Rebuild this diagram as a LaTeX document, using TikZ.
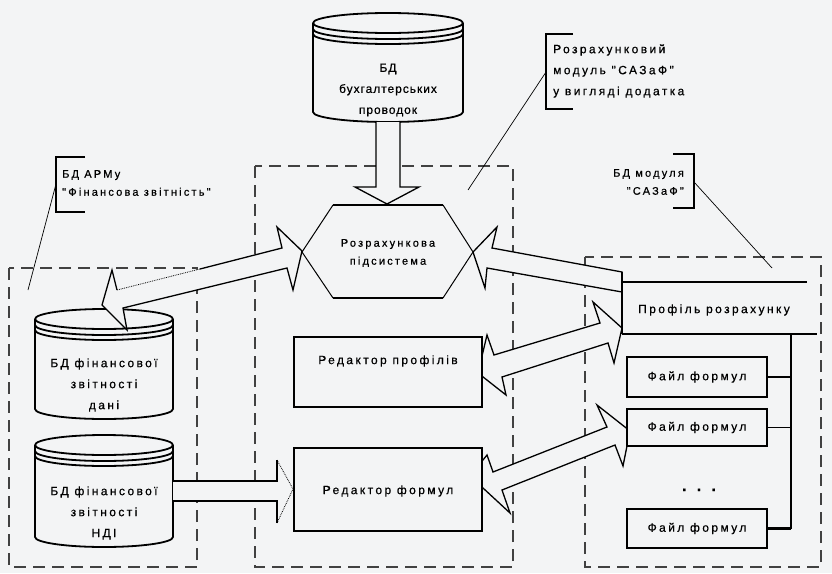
\documentclass[tikz,border=0pt]{standalone}
\usepackage{fontspec}
\setmainfont{Liberation Sans}
\newfontfamily\lblfont{Liberation Sans}[LetterSpace=20,FakeBold=0.5]
\newfontfamily\lbltight{Liberation Sans}[LetterSpace=8,FakeBold=0.5]

\definecolor{paper}{RGB}{243,244,245}
\definecolor{dashgray}{RGB}{65,65,65}

\tikzset{
  dashbox/.style={draw=dashgray, line width=1.7pt, dash pattern=on 12pt off 7pt},
  cylline/.style={draw=black, line width=1.8pt, line join=round},
  fatline/.style={draw=black, line width=1.3pt, line join=miter},
  fatfill/.style={fill=paper},
  thindots/.style={draw=black, line width=0.8pt, densely dotted},
  edbox/.style={draw=black, line width=2.8pt, fill=paper, inner sep=0pt},
  filebox/.style={draw=black, line width=1.7pt, fill=paper, inner sep=0pt, minimum width=140pt},
  lbl/.style={font={\lblfont\fontsize{12}{21}\selectfont}, inner sep=0pt, align=center},
  lblsmall/.style={font={\lblfont\fontsize{11}{18}\selectfont}, inner sep=0pt, align=center},
  lbltop/.style={font={\lbltight\fontsize{12}{21}\selectfont}, inner sep=0pt, align=center},
  bracket/.style={draw=black, line width=1.3pt},
  leader/.style={draw=black, line width=0.7pt},
}

% database cylinder: #1 left x, #2 right x, #3 top y, #4 centre y of the bottom rim
\newcommand\dbcylinder[4]{%
  \pgfmathsetmacro\cylMid{(#1+#2)/2}%
  \pgfmathsetmacro\cylRx{(#2-#1)/2}%
  \pgfmathsetmacro\cylK{0.5523*\cylRx}%
  \pgfmathsetmacro\cylC{#3+10}%
  \draw[cylline] (\cylMid,\cylC) ellipse ({\cylRx} and 10);
  \foreach \cylD in {6,11}{%
    \pgfmathsetmacro\cylY{\cylC+\cylD}%
    \draw[cylline] (#1,\cylY) .. controls (#1,\cylY+5.523) and (\cylMid-\cylK,\cylY+10) .. (\cylMid,\cylY+10)
      .. controls (\cylMid+\cylK,\cylY+10) and (#2,\cylY+5.523) .. (#2,\cylY);
  }
  \draw[cylline] (#1,\cylC) -- (#1,#4) .. controls (#1,#4+5.523) and (\cylMid-\cylK,#4+10) .. (\cylMid,#4+10)
      .. controls (\cylMid+\cylK,#4+10) and (#2,#4+5.523) .. (#2,#4) -- (#2,\cylC);
}

\begin{document}
\begin{tikzpicture}[x=1pt,y=-1pt]
\fill[paper] (0,0) rectangle (832,573);
\useasboundingbox (0,0) rectangle (832,573);

% dashed groupings
\draw[dashbox] (9,268) rectangle (197,567);
\draw[dashbox] (255,166) rectangle (513,567);
\draw[dashbox] (585,257) rectangle (821,567);

% databases
\dbcylinder{313}{463}{13}{112}
\node[lbltop] (dbpost) at (388,90) {БД\\бухгалтерських\\проводок};

\dbcylinder{35}{173}{309}{409}
\node[lbl] (dbdata) at (104,385) {БД фінансової\\звітності\\дані};

\dbcylinder{35}{173}{435}{537}
\node[lbl] (dbnsi) at (104,513) {БД фінансової\\звітності\\НДІ};

% call-outs
\draw[bracket] (573,34) -- (546,34) -- (546,109) -- (573,109);
\node[lbl, align=left, anchor=west] (modnote) at (553,71) {Розрахунковий\\модуль "САЗаФ"\\у вигляді додатка};
\coordinate (modtip) at (546,72);
\coordinate (modend) at (468,190);
\draw[leader] (modtip) -- (modend);

\draw[bracket] (85,157) -- (56,157) -- (56,212) -- (85,212);
\node[lblsmall, align=left, anchor=west] (armnote) at (62,183) {БД АРМу\\"Фінансова звітність"};
\coordinate (armtip) at (56,184);
\coordinate (armend) at (28,290);
\draw[leader] (armtip) -- (armend);

\draw[bracket] (673,154) -- (694,154) -- (694,208) -- (673,208);
\node[lblsmall, align=right, anchor=east] (dbnote) at (684,182) {БД модуля\\"САЗаФ"};
\coordinate (dbtip) at (694,182);
\coordinate (dbend) at (772,268);
\draw[leader] (dbtip) -- (dbend);

% wide arrows
% postings database -> subsystem
\path[fatfill] (376,122) -- (376,187) -- (355,187) -- (387,204) -- (419,187) -- (400,187) -- (400,122) -- cycle;
\draw[fatline] (376,122) -- (376,187) -- (355,187) -- (387,204) -- (419,187) -- (400,187) -- (400,122);

% reporting data <-> subsystem
\path[fatfill] (102,305) -- (112,270) -- (117,290) -- (282,248) -- (277,227) -- (302,251) -- (293,290) -- (287,268) -- (123,308) -- (127,330) -- cycle;
\draw[fatline] (117,290) -- (112,270) -- (102,305) -- (127,330) -- (123,308) -- (287,268) -- (293,290) -- (302,251) -- (277,227) -- (282,248) -- (200,269);
\draw[thindots] (200,269) -- (117,290);

% calculation profile -> subsystem
\filldraw[fatfill, fatline] (473,252) -- (497,227) -- (492,248) -- (622,272) -- (622,292) -- (487,268) -- (485,288) -- cycle;

% profile editor <-> calculation profile
\filldraw[fatfill, fatline] (478,373) -- (487,335) -- (494,355) -- (600,323) -- (593,302) -- (622,328) -- (614,363) -- (608,343) -- (502,377) -- (506,395) -- cycle;

% formula editor <-> formula file
\filldraw[fatfill, fatline] (470,476) -- (487,455) -- (493,472) -- (607,427) -- (597,405) -- (630,431) -- (623,466) -- (615,445) -- (502,490) -- (510,513) -- cycle;

% reference data -> formula editor
\path[fatfill] (173,481) -- (277,481) -- (277,460) -- (293,489) -- (277,523) -- (277,501) -- (173,501) -- cycle;
\draw[fatline] (173,481) -- (277,481) -- (277,460);
\draw[fatline] (173,501) -- (277,501) -- (277,523);
\draw[thindots] (277,460) -- (293,489) -- (277,523);

% calculation subsystem
\coordinate (hxa) at (333,205);
\coordinate (hxb) at (443,205);
\coordinate (hxc) at (473,252);
\coordinate (hxd) at (443,298);
\coordinate (hxe) at (333,298);
\coordinate (hxf) at (302,252);
\draw[line width=1pt] (hxb) -- (hxc) -- (hxd);
\draw[line width=1pt] (hxe) -- (hxf) -- (hxa);
\draw[line width=2pt] (hxa) -- (hxb);
\draw[line width=2pt] (hxd) -- (hxe);
\node[lblsmall] (subsys) at (388,253) {Розрахункова\\підсистема};

% editors
\node[edbox, minimum width=188pt, minimum height=70pt] (edprof) at (388,372) {};
\node[lbl] (edproftxt) at (388,361) {Редактор профілів};
\node[edbox, minimum width=188pt, minimum height=83pt] (edform) at (388,489.5) {};
\node[lbl] (edformtxt) at (388,491) {Редактор формул};

% module database
\coordinate (prtl) at (622,282);
\coordinate (prtr) at (807,282);
\coordinate (prbl) at (622,334);
\coordinate (prbr) at (817,334);
\draw[line width=2pt] (prtl) -- (prtr);
\draw[line width=1.2pt] (prbl) -- (prbr);
\draw[line width=1.2pt] (622,272) -- (prbl);
\node[lbl] (prof) at (714,310) {Профіль розрахунку};

\coordinate (busTop) at (791,334);
\coordinate (busBot) at (791,528.5);
\draw[line width=1.2pt] (busTop) -- (busBot);

\node[filebox, minimum height=40pt] (file1) at (697,377) {};
\node[lbl] (file1txt) at (697,377) {Файл формул};
\node[filebox, minimum height=37pt] (file2) at (697,427.5) {};
\node[lbl] (file2txt) at (697,427.5) {Файл формул};
\node[filebox, minimum height=39pt] (file3) at (697,528.5) {};
\node[lbl] (file3txt) at (697,528.5) {Файл формул};
\node[font={\lblfont\bfseries\fontsize{16}{16}\selectfont}, inner sep=0pt, anchor=base] (dots) at (699,491) {. . .};

\draw[line width=1.2pt] (file1.east) -- (file1.east -| busTop);
\draw[line width=1.2pt] (file2.east) -- (file2.east -| busTop);
\draw[line width=3pt] (file3.east) -- (file3.east -| busTop);
\end{tikzpicture}
\end{document}
